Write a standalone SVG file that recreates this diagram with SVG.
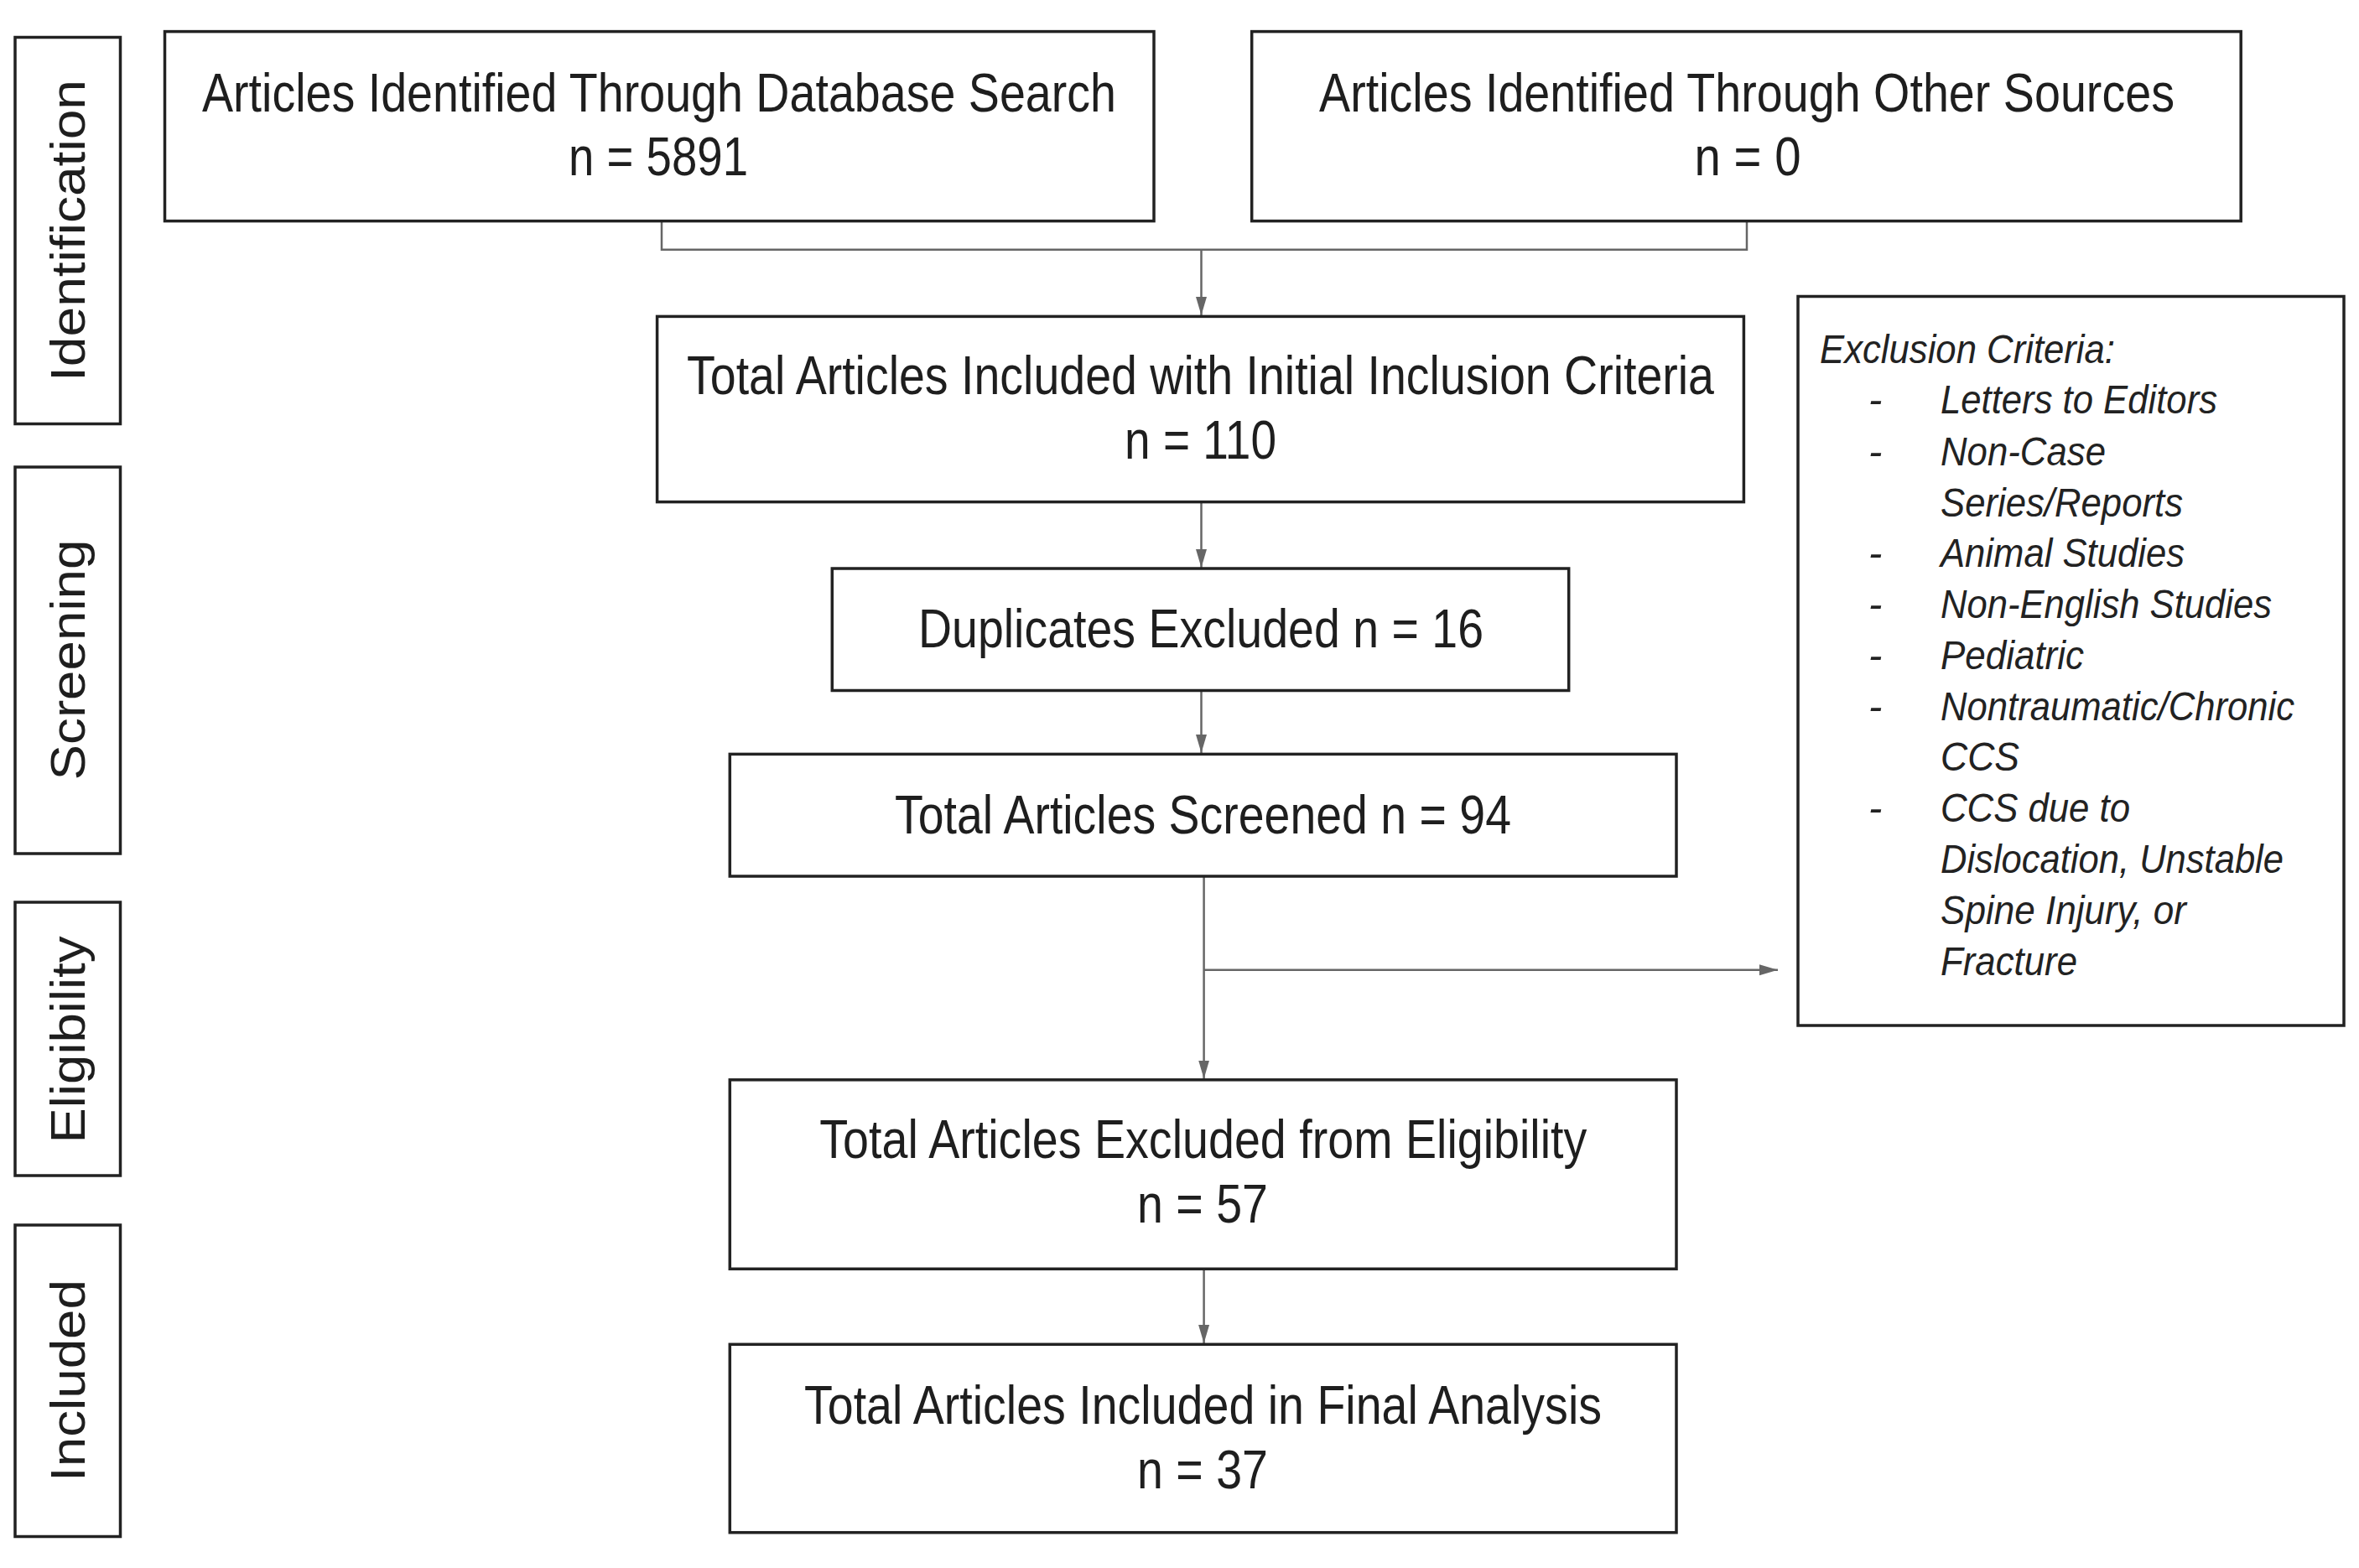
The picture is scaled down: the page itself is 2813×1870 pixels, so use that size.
<svg xmlns="http://www.w3.org/2000/svg" width="2813" height="1870" viewBox="0 0 2813 1870">
  <style>
    .box { fill: #ffffff; stroke: #222222; stroke-width: 3.5; }
    .lbl { fill: #ffffff; stroke: #222222; stroke-width: 3.5; }
    .t { font-family: "Liberation Sans", Arial, sans-serif; font-size: 65px; fill: #1e1e1e; text-anchor: middle; }
    .v { font-family: "Liberation Sans", Arial, sans-serif; font-size: 58px; fill: #1e1e1e; text-anchor: middle; }
    .ex { font-family: "Liberation Sans", Arial, sans-serif; font-size: 49px; font-style: italic; fill: #222222; }
    .c { fill: none; stroke: #666666; stroke-width: 2.5; }
  </style>
  <defs>
    <marker id="arr" markerUnits="userSpaceOnUse" markerWidth="24" markerHeight="14" refX="22" refY="7" orient="auto">
      <path d="M0,0.5 L22,7 L0,13.5 Z" fill="#666666"/>
    </marker>
  </defs>
  <rect width="2813" height="1870" fill="#ffffff"/>

  <g id="stage-identification">
    <rect class="lbl" x="18" y="44.5" width="125.5" height="461"/>
    <text class="v" transform="translate(100.5,275) rotate(-90)" textLength="360" lengthAdjust="spacingAndGlyphs">Identification</text>
  </g>
  <g id="stage-screening">
    <rect class="lbl" x="18" y="557" width="125.5" height="461"/>
    <text class="v" transform="translate(100.5,787) rotate(-90)" textLength="287" lengthAdjust="spacingAndGlyphs">Screening</text>
  </g>
  <g id="stage-eligibility">
    <rect class="lbl" x="18" y="1076" width="125.5" height="326"/>
    <text class="v" transform="translate(100.5,1240) rotate(-90)" textLength="247" lengthAdjust="spacingAndGlyphs">Eligibility</text>
  </g>
  <g id="stage-included">
    <rect class="lbl" x="18" y="1461" width="125.5" height="371.5"/>
    <text class="v" transform="translate(100.5,1646.5) rotate(-90)" textLength="241" lengthAdjust="spacingAndGlyphs">Included</text>
  </g>

  <g id="connectors">
    <path class="c" d="M789,263.5 V297.7 H2083 V263.5"/>
    <line class="c" x1="1432.5" y1="297.7" x2="1432.5" y2="376" marker-end="url(#arr)"/>
    <line class="c" x1="1432.5" y1="598.6" x2="1432.5" y2="677" marker-end="url(#arr)"/>
    <line class="c" x1="1432.5" y1="823.5" x2="1432.5" y2="898" marker-end="url(#arr)"/>
    <line class="c" x1="1435.6" y1="1045" x2="1435.6" y2="1286.5" marker-end="url(#arr)"/>
    <line class="c" x1="1435.6" y1="1156.7" x2="2120" y2="1156.7" marker-end="url(#arr)"/>
    <line class="c" x1="1435.6" y1="1513.3" x2="1435.6" y2="1602" marker-end="url(#arr)"/>
  </g>

  <g id="node-database">
    <rect class="box" x="196.5" y="37.6" width="1179.5" height="226"/>
    <text class="t" x="786" y="132.5" textLength="1090" lengthAdjust="spacingAndGlyphs">Articles Identified Through Database Search</text>
    <text class="t" x="785" y="208.8" textLength="214" lengthAdjust="spacingAndGlyphs">n = 5891</text>
  </g>
  <g id="node-other">
    <rect class="box" x="1492.7" y="37.6" width="1179.5" height="226"/>
    <text class="t" x="2083" y="132.5" textLength="1020" lengthAdjust="spacingAndGlyphs">Articles Identified Through Other Sources</text>
    <text class="t" x="2084" y="208.8" textLength="127" lengthAdjust="spacingAndGlyphs">n = 0</text>
  </g>
  <g id="node-initial">
    <rect class="box" x="783.6" y="377.4" width="1295.8" height="221.2"/>
    <text class="t" x="1431.5" y="469.5" textLength="1225" lengthAdjust="spacingAndGlyphs">Total Articles Included with Initial Inclusion Criteria</text>
    <text class="t" x="1431.5" y="547" textLength="181" lengthAdjust="spacingAndGlyphs">n = 110</text>
  </g>
  <g id="node-duplicates">
    <rect class="box" x="992.3" y="678" width="878.4" height="145.5"/>
    <text class="t" x="1432" y="771.5" textLength="674" lengthAdjust="spacingAndGlyphs">Duplicates Excluded n = 16</text>
  </g>
  <g id="node-screened">
    <rect class="box" x="870.3" y="899.4" width="1128.7" height="145.6"/>
    <text class="t" x="1434.5" y="993.7" textLength="735" lengthAdjust="spacingAndGlyphs">Total Articles Screened n = 94</text>
  </g>
  <g id="node-exclusion-criteria">
    <rect class="box" x="2144" y="353.5" width="651" height="869.5"/>
    <text class="ex" x="2170" y="432.5" textLength="352" lengthAdjust="spacingAndGlyphs">Exclusion Criteria:</text>
    <text class="ex" x="2228" y="493">-</text>
    <text class="ex" x="2314" y="493" textLength="330" lengthAdjust="spacingAndGlyphs">Letters to Editors</text>
    <text class="ex" x="2228" y="554.5">-</text>
    <text class="ex" x="2314" y="554.5" textLength="197" lengthAdjust="spacingAndGlyphs">Non-Case</text>
    <text class="ex" x="2314" y="615.5" textLength="289" lengthAdjust="spacingAndGlyphs">Series/Reports</text>
    <text class="ex" x="2228" y="676">-</text>
    <text class="ex" x="2314" y="676" textLength="291" lengthAdjust="spacingAndGlyphs">Animal Studies</text>
    <text class="ex" x="2228" y="737">-</text>
    <text class="ex" x="2314" y="737" textLength="395" lengthAdjust="spacingAndGlyphs">Non-English Studies</text>
    <text class="ex" x="2228" y="798">-</text>
    <text class="ex" x="2314" y="798" textLength="171" lengthAdjust="spacingAndGlyphs">Pediatric</text>
    <text class="ex" x="2228" y="858.5">-</text>
    <text class="ex" x="2314" y="858.5" textLength="422" lengthAdjust="spacingAndGlyphs">Nontraumatic/Chronic</text>
    <text class="ex" x="2314" y="919" textLength="94" lengthAdjust="spacingAndGlyphs">CCS</text>
    <text class="ex" x="2228" y="980">-</text>
    <text class="ex" x="2314" y="980" textLength="226" lengthAdjust="spacingAndGlyphs">CCS due to</text>
    <text class="ex" x="2314" y="1041" textLength="409" lengthAdjust="spacingAndGlyphs">Dislocation, Unstable</text>
    <text class="ex" x="2314" y="1102" textLength="293" lengthAdjust="spacingAndGlyphs">Spine Injury, or</text>
    <text class="ex" x="2314" y="1163" textLength="163" lengthAdjust="spacingAndGlyphs">Fracture</text>
  </g>
  <g id="node-excluded-eligibility">
    <rect class="box" x="870.3" y="1287.8" width="1128.7" height="225.5"/>
    <text class="t" x="1434.8" y="1380.5" textLength="915" lengthAdjust="spacingAndGlyphs">Total Articles Excluded from Eligibility</text>
    <text class="t" x="1434" y="1458" textLength="156" lengthAdjust="spacingAndGlyphs">n = 57</text>
  </g>
  <g id="node-final">
    <rect class="box" x="870.3" y="1603.3" width="1128.7" height="224.4"/>
    <text class="t" x="1434.5" y="1697.6" textLength="951" lengthAdjust="spacingAndGlyphs">Total Articles Included in Final Analysis</text>
    <text class="t" x="1434" y="1774.6" textLength="156" lengthAdjust="spacingAndGlyphs">n = 37</text>
  </g>
</svg>
